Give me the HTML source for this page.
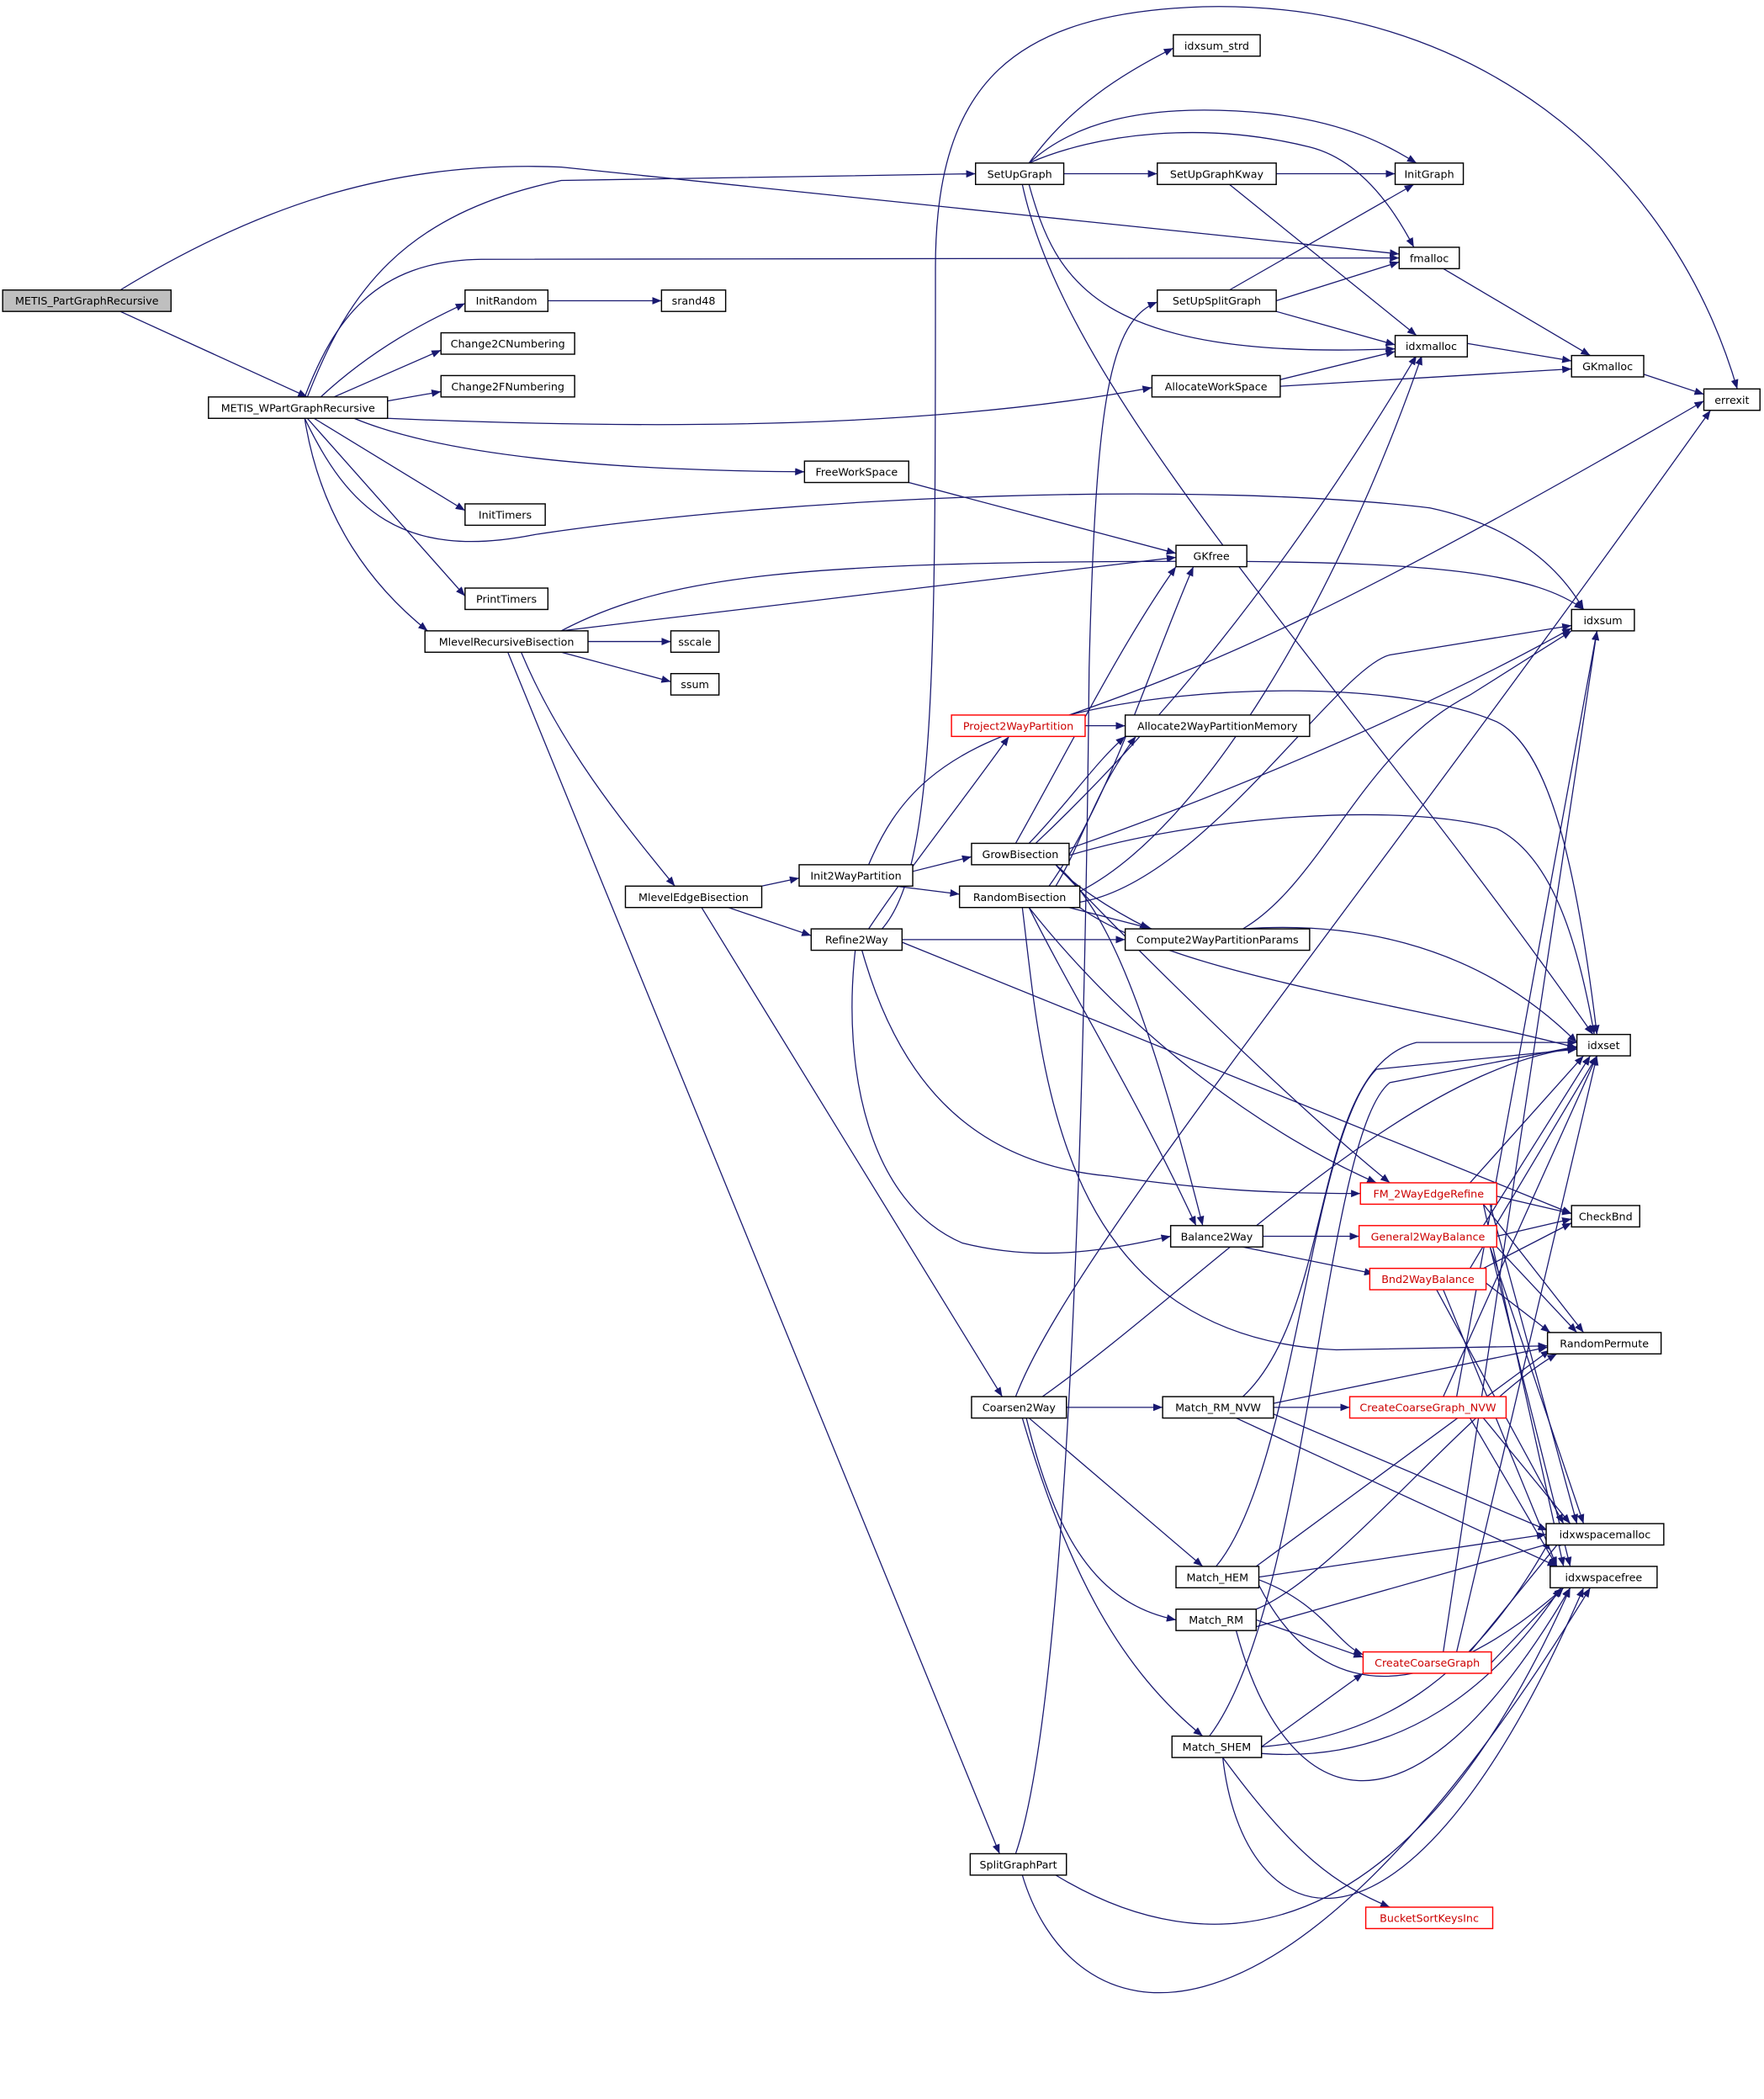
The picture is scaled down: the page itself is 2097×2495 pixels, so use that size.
<!DOCTYPE html>
<html><head><meta charset="utf-8"><style>html,body{margin:0;padding:0;background:#fff}svg{display:block}</style></head><body>
<svg xmlns="http://www.w3.org/2000/svg" width="2097" height="2495" viewBox="0 0 1320 1570.5">
<defs><marker id="a" viewBox="0 0 10 10" refX="10" refY="5" markerWidth="7" markerHeight="7" markerUnits="userSpaceOnUse" orient="auto"><path d="M0,1L10,5L0,9z" fill="#191970"/></marker></defs>
<g fill="none" stroke="#191970" stroke-width="0.8" marker-end="url(#a)">
<path d="M90,233L230,297"/>
<path d="M90,217C200,150 300,120 420,125 L1047,190"/>
<path d="M230,297C260,220 300,160 420,135 L730,130"/>
<path d="M228,297C250,240 280,195 360,194 L1047,193"/>
<path d="M240,297C280,260 320,240 348,227"/>
<path d="M250,297L330,262"/>
<path d="M290,300L330,293"/>
<path d="M290,313C500,322 700,320 862,290"/>
<path d="M265,313C330,340 450,352 602,353"/>
<path d="M235,313L348,382"/>
<path d="M228,313C260,380 300,420 400,400 C600,370 900,360 1070,380 C1140,395 1170,430 1185,456"/>
<path d="M230,313L348,446"/>
<path d="M228,313C240,390 280,440 320,472"/>
<path d="M410,225L495,225"/>
<path d="M680,361L880,414"/>
<path d="M770,122C800,80 840,55 878,36"/>
<path d="M770,122C800,95 850,75 950,85 C1010,92 1040,110 1060,122"/>
<path d="M796,130L866,130"/>
<path d="M770,122C820,100 900,90 980,110 C1020,120 1045,160 1058,185"/>
<path d="M770,138C790,210 820,270 1044,261"/>
<path d="M765,138C800,300 1000,500 1192,774"/>
<path d="M955,130L1044,130"/>
<path d="M920,138L1060,251"/>
<path d="M920,217L1058,138"/>
<path d="M955,225L1047,196"/>
<path d="M955,233L1044,258"/>
<path d="M1080,201L1190,266"/>
<path d="M1098,257L1176,270"/>
<path d="M958,284L1044,263"/>
<path d="M958,289L1176,276"/>
<path d="M1230,280L1275,295"/>
<path d="M420,472C500,430 600,420 900,420 C1080,420 1150,430 1185,456"/>
<path d="M420,472L880,417"/>
<path d="M440,480L502,480"/>
<path d="M420,488L502,510"/>
<path d="M390,488C420,560 470,620 505,663"/>
<path d="M380,488L748,1387"/>
<path d="M570,663L598,657"/>
<path d="M545,679L607,700"/>
<path d="M525,679L750,1045"/>
<path d="M683,652L727,641"/>
<path d="M670,663L718,669"/>
<path d="M650,647C670,600 700,560 800,535 C900,500 1000,460 1275,300"/>
<path d="M650,695C680,650 720,600 755,551"/>
<path d="M660,695C700,650 700,500 700,200 C700,60 760,10 900,5 C1100,0 1250,120 1300,291"/>
<path d="M675,703L842,703"/>
<path d="M675,705L1176,908"/>
<path d="M645,711C670,800 720,870 830,880 C900,890 950,893 1018,893"/>
<path d="M640,711C630,800 650,900 720,930 C780,945 830,935 876,925"/>
<path d="M812,543L842,543"/>
<path d="M800,535C900,510 1050,510 1120,540 C1160,560 1180,650 1195,774"/>
<path d="M760,631C800,560 840,480 880,424"/>
<path d="M770,631C800,600 820,570 842,551"/>
<path d="M775,631C850,560 950,450 1060,266"/>
<path d="M800,635C900,600 1050,540 1176,470"/>
<path d="M800,640C900,610 1050,600 1120,620 C1160,640 1180,700 1193,774"/>
<path d="M790,647C800,660 830,680 860,695"/>
<path d="M790,647C830,680 860,760 900,917"/>
<path d="M790,647C840,700 960,820 1040,885"/>
<path d="M785,663C830,600 860,500 893,424"/>
<path d="M790,663C810,630 820,590 850,551"/>
<path d="M808,667C900,620 1000,450 1064,266"/>
<path d="M808,675C900,660 1000,500 1040,490 L1176,468"/>
<path d="M808,679C880,730 1050,750 1180,784"/>
<path d="M800,679L862,695"/>
<path d="M770,679C800,740 850,820 895,917"/>
<path d="M770,679C850,780 950,850 1030,885"/>
<path d="M765,679C780,800 790,1000 1000,1010 L1158,1007"/>
<path d="M930,695C990,660 1020,560 1100,520 L1176,472"/>
<path d="M930,695C1000,690 1100,700 1180,780"/>
<path d="M945,925L1017,925"/>
<path d="M930,933L1028,953"/>
<path d="M1100,885L1185,790"/>
<path d="M1120,895L1176,908"/>
<path d="M1110,901L1185,997"/>
<path d="M1115,901L1180,1140"/>
<path d="M1110,901L1170,1172"/>
<path d="M1110,917L1190,790"/>
<path d="M1120,925L1176,912"/>
<path d="M1120,933L1180,997"/>
<path d="M1115,933L1185,1140"/>
<path d="M1115,933L1175,1172"/>
<path d="M1100,949L1195,790"/>
<path d="M1110,949L1176,915"/>
<path d="M1112,960L1160,997"/>
<path d="M1075,965L1170,1140"/>
<path d="M1080,965L1165,1172"/>
<path d="M798,1053L870,1053"/>
<path d="M770,1061L900,1172"/>
<path d="M768,1061C790,1150 820,1200 880,1212"/>
<path d="M765,1061C800,1180 840,1250 900,1299"/>
<path d="M760,1045C800,940 1000,700 1280,307"/>
<path d="M780,1045C900,960 1050,800 1180,784"/>
<path d="M953,1053L1010,1053"/>
<path d="M953,1050L1158,1008"/>
<path d="M953,1058L1158,1145"/>
<path d="M925,1061L1165,1172"/>
<path d="M930,1045C1000,980 980,800 1060,780 L1180,780"/>
<path d="M1080,1045L1195,790"/>
<path d="M1090,1045L1195,472"/>
<path d="M1110,1061L1175,1140"/>
<path d="M1100,1061L1165,1172"/>
<path d="M942,1180L1157,1148"/>
<path d="M940,1172L1160,1010"/>
<path d="M942,1182C990,1200 1000,1230 1020,1238"/>
<path d="M942,1186C1000,1300 1100,1250 1170,1188"/>
<path d="M910,1172C970,1100 980,850 1030,800 L1180,785"/>
<path d="M940,1204C1000,1180 1100,1050 1165,1013"/>
<path d="M940,1212L1020,1240"/>
<path d="M925,1220C960,1350 1050,1400 1175,1188"/>
<path d="M930,1220L1170,1152"/>
<path d="M944,1307L1020,1252"/>
<path d="M944,1307C1030,1300 1100,1260 1160,1152"/>
<path d="M944,1312C1050,1320 1120,1260 1168,1188"/>
<path d="M915,1315C970,1390 1000,1410 1040,1427"/>
<path d="M915,1315C930,1450 1050,1500 1185,1188"/>
<path d="M905,1299C980,1200 990,850 1040,810 L1180,783"/>
<path d="M1080,1236L1195,472"/>
<path d="M1090,1236L1195,790"/>
<path d="M1100,1236L1170,1150"/>
<path d="M1116,1244L1170,1188"/>
<path d="M760,1387C790,1300 810,1000 815,500 C820,300 830,240 866,226"/>
<path d="M790,1403C900,1470 1050,1470 1175,1188"/>
<path d="M765,1403C800,1520 950,1580 1190,1188"/>
</g>
<g font-family="DejaVu Sans, Liberation Sans, sans-serif" font-size="8" text-anchor="middle" stroke-width="0.9">
<g id="n"></g>
</g>
<g font-family="DejaVu Sans, Liberation Sans, sans-serif" font-size="8" text-anchor="middle">
<rect x="2" y="217" width="126" height="16" fill="#bfbfbf" stroke="#000" stroke-width="0.9"/><text x="65" y="228">METIS_PartGraphRecursive</text>
<rect x="156" y="297" width="134" height="16" fill="#fff" stroke="#000" stroke-width="0.9"/><text x="223" y="308">METIS_WPartGraphRecursive</text>
<rect x="730" y="122" width="66" height="16" fill="#fff" stroke="#000" stroke-width="0.9"/><text x="763" y="133">SetUpGraph</text>
<rect x="878" y="26" width="65" height="16" fill="#fff" stroke="#000" stroke-width="0.9"/><text x="910.5" y="37">idxsum_strd</text>
<rect x="1044" y="122" width="51" height="16" fill="#fff" stroke="#000" stroke-width="0.9"/><text x="1069.5" y="133">InitGraph</text>
<rect x="866" y="122" width="89" height="16" fill="#fff" stroke="#000" stroke-width="0.9"/><text x="910.5" y="133">SetUpGraphKway</text>
<rect x="1047" y="185" width="45" height="16" fill="#fff" stroke="#000" stroke-width="0.9"/><text x="1069.5" y="196">fmalloc</text>
<rect x="348" y="217" width="62" height="16" fill="#fff" stroke="#000" stroke-width="0.9"/><text x="379" y="228">InitRandom</text>
<rect x="495" y="217" width="48" height="16" fill="#fff" stroke="#000" stroke-width="0.9"/><text x="519" y="228">srand48</text>
<rect x="330" y="249" width="100" height="16" fill="#fff" stroke="#000" stroke-width="0.9"/><text x="380" y="260">Change2CNumbering</text>
<rect x="330" y="281" width="100" height="16" fill="#fff" stroke="#000" stroke-width="0.9"/><text x="380" y="292">Change2FNumbering</text>
<rect x="866" y="217" width="89" height="16" fill="#fff" stroke="#000" stroke-width="0.9"/><text x="910.5" y="228">SetUpSplitGraph</text>
<rect x="1044" y="251" width="54" height="16" fill="#fff" stroke="#000" stroke-width="0.9"/><text x="1071" y="262">idxmalloc</text>
<rect x="1176" y="266" width="54" height="16" fill="#fff" stroke="#000" stroke-width="0.9"/><text x="1203" y="277">GKmalloc</text>
<rect x="1275" y="291" width="42" height="16" fill="#fff" stroke="#000" stroke-width="0.9"/><text x="1296" y="302">errexit</text>
<rect x="862" y="281" width="96" height="16" fill="#fff" stroke="#000" stroke-width="0.9"/><text x="910" y="292">AllocateWorkSpace</text>
<rect x="602" y="345" width="78" height="16" fill="#fff" stroke="#000" stroke-width="0.9"/><text x="641" y="356">FreeWorkSpace</text>
<rect x="348" y="377" width="60" height="16" fill="#fff" stroke="#000" stroke-width="0.9"/><text x="378" y="388">InitTimers</text>
<rect x="880" y="408" width="53" height="16" fill="#fff" stroke="#000" stroke-width="0.9"/><text x="906.5" y="419">GKfree</text>
<rect x="1176" y="456" width="47" height="16" fill="#fff" stroke="#000" stroke-width="0.9"/><text x="1199.5" y="467">idxsum</text>
<rect x="348" y="440" width="62" height="16" fill="#fff" stroke="#000" stroke-width="0.9"/><text x="379" y="451">PrintTimers</text>
<rect x="318" y="472" width="122" height="16" fill="#fff" stroke="#000" stroke-width="0.9"/><text x="379" y="483">MlevelRecursiveBisection</text>
<rect x="502" y="472" width="36" height="16" fill="#fff" stroke="#000" stroke-width="0.9"/><text x="520" y="483">sscale</text>
<rect x="502" y="504" width="36" height="16" fill="#fff" stroke="#000" stroke-width="0.9"/><text x="520" y="515">ssum</text>
<rect x="712" y="535" width="100" height="16" fill="#fff" stroke="#f00" stroke-width="0.9"/><text x="762" y="546" fill="#c00">Project2WayPartition</text>
<rect x="842" y="535" width="138" height="16" fill="#fff" stroke="#000" stroke-width="0.9"/><text x="911" y="546">Allocate2WayPartitionMemory</text>
<rect x="727" y="631" width="73" height="16" fill="#fff" stroke="#000" stroke-width="0.9"/><text x="763.5" y="642">GrowBisection</text>
<rect x="598" y="647" width="85" height="16" fill="#fff" stroke="#000" stroke-width="0.9"/><text x="640.5" y="658">Init2WayPartition</text>
<rect x="468" y="663" width="102" height="16" fill="#fff" stroke="#000" stroke-width="0.9"/><text x="519" y="674">MlevelEdgeBisection</text>
<rect x="718" y="663" width="90" height="16" fill="#fff" stroke="#000" stroke-width="0.9"/><text x="763" y="674">RandomBisection</text>
<rect x="607" y="695" width="68" height="16" fill="#fff" stroke="#000" stroke-width="0.9"/><text x="641" y="706">Refine2Way</text>
<rect x="842" y="695" width="138" height="16" fill="#fff" stroke="#000" stroke-width="0.9"/><text x="911" y="706">Compute2WayPartitionParams</text>
<rect x="1180" y="774" width="40" height="16" fill="#fff" stroke="#000" stroke-width="0.9"/><text x="1200" y="785">idxset</text>
<rect x="1018" y="885" width="102" height="16" fill="#fff" stroke="#f00" stroke-width="0.9"/><text x="1069" y="896" fill="#c00">FM_2WayEdgeRefine</text>
<rect x="1176" y="902" width="51" height="16" fill="#fff" stroke="#000" stroke-width="0.9"/><text x="1201.5" y="913">CheckBnd</text>
<rect x="1017" y="917" width="103" height="16" fill="#fff" stroke="#f00" stroke-width="0.9"/><text x="1068.5" y="928" fill="#c00">General2WayBalance</text>
<rect x="876" y="917" width="69" height="16" fill="#fff" stroke="#000" stroke-width="0.9"/><text x="910.5" y="928">Balance2Way</text>
<rect x="1025" y="949" width="87" height="16" fill="#fff" stroke="#f00" stroke-width="0.9"/><text x="1068.5" y="960" fill="#c00">Bnd2WayBalance</text>
<rect x="1158" y="997" width="85" height="16" fill="#fff" stroke="#000" stroke-width="0.9"/><text x="1200.5" y="1008">RandomPermute</text>
<rect x="727" y="1045" width="71" height="16" fill="#fff" stroke="#000" stroke-width="0.9"/><text x="762.5" y="1056">Coarsen2Way</text>
<rect x="870" y="1045" width="83" height="16" fill="#fff" stroke="#000" stroke-width="0.9"/><text x="911.5" y="1056">Match_RM_NVW</text>
<rect x="1010" y="1045" width="117" height="16" fill="#fff" stroke="#f00" stroke-width="0.9"/><text x="1068.5" y="1056" fill="#c00">CreateCoarseGraph_NVW</text>
<rect x="1157" y="1140" width="88" height="16" fill="#fff" stroke="#000" stroke-width="0.9"/><text x="1201" y="1151">idxwspacemalloc</text>
<rect x="1160" y="1172" width="80" height="16" fill="#fff" stroke="#000" stroke-width="0.9"/><text x="1200" y="1183">idxwspacefree</text>
<rect x="880" y="1172" width="62" height="16" fill="#fff" stroke="#000" stroke-width="0.9"/><text x="911" y="1183">Match_HEM</text>
<rect x="880" y="1204" width="60" height="16" fill="#fff" stroke="#000" stroke-width="0.9"/><text x="910" y="1215">Match_RM</text>
<rect x="1020" y="1236" width="96" height="16" fill="#fff" stroke="#f00" stroke-width="0.9"/><text x="1068" y="1247" fill="#c00">CreateCoarseGraph</text>
<rect x="877" y="1299" width="67" height="16" fill="#fff" stroke="#000" stroke-width="0.9"/><text x="910.5" y="1310">Match_SHEM</text>
<rect x="1022" y="1427" width="95" height="16" fill="#fff" stroke="#f00" stroke-width="0.9"/><text x="1069.5" y="1438" fill="#c00">BucketSortKeysInc</text>
<rect x="726" y="1387" width="72" height="16" fill="#fff" stroke="#000" stroke-width="0.9"/><text x="762" y="1398">SplitGraphPart</text>
</g>
</svg>
</body></html>
